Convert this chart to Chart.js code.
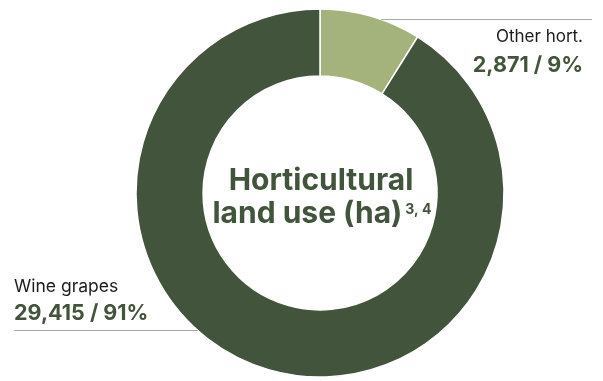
<!DOCTYPE html>
<html>
<head>
<meta charset="utf-8">
<script src="https://cdn.jsdelivr.net/npm/chart.js@4.4.1/dist/chart.umd.min.js"></script>
<style>
html,body{margin:0;padding:0;background:#fff;}
#wrap{position:relative;width:603px;height:381px;}
</style>
</head>
<body>
<div id="wrap"><canvas id="c" width="603" height="381"></canvas></div>
<script>
const categories = ["Other hort.", "Wine grapes"];
const values = [2871, 29415];
const colors = ["#a3b37b", "#43543c"];
const titleLines = ["Horticultural", "land use (ha)"];
const titleNote = "3, 4";

const FONT = "Inter, 'Noto Sans', sans-serif";
const DARK = "#43543c";

const total = values.reduce((a, b) => a + b, 0);
const pct = values.map(v => Math.round(v / total * 100));

const labelPlugin = {
  id: 'labels',
  afterDatasetsDraw(chart) {
    const ctx = chart.ctx;
    const meta = chart.getDatasetMeta(0);
    const arc = meta.data[0];
    const cx = arc.x, cy = arc.y, R = arc.outerRadius;
    ctx.save();
    // leader lines
    ctx.strokeStyle = "#a8a8a8";
    ctx.lineWidth = 1;
    const yTop = 19.5;
    const xTop = cx + Math.sqrt(R * R - (cy - yTop) * (cy - yTop));
    ctx.beginPath(); ctx.moveTo(xTop, yTop); ctx.lineTo(592, yTop); ctx.stroke();
    const yBot = 330.5;
    const xBot = cx - Math.sqrt(R * R - (yBot - cy) * (yBot - cy));
    ctx.beginPath(); ctx.moveTo(14, yBot); ctx.lineTo(xBot, yBot); ctx.stroke();

    // outer labels
    ctx.textBaseline = 'alphabetic';
    ctx.textAlign = 'right';
    ctx.fillStyle = "#1c1c1c";
    ctx.font = "400 17px " + FONT;
    ctx.fillText(categories[0], 583, 42);
    ctx.fillStyle = DARK;
    ctx.font = "700 21.5px " + FONT;
    ctx.fillText(values[0].toLocaleString('en-US') + " / " + pct[0] + "%", 583, 72);

    ctx.textAlign = 'left';
    ctx.fillStyle = "#1c1c1c";
    ctx.font = "400 17.5px " + FONT;
    ctx.fillText(categories[1], 14, 292);
    ctx.fillStyle = DARK;
    ctx.font = "700 21.5px " + FONT;
    ctx.fillText(values[1].toLocaleString('en-US') + " / " + pct[1] + "%", 14, 320);

    // centre title
    ctx.fillStyle = DARK;
    ctx.textAlign = 'center';
    ctx.font = "700 30px " + FONT;
    ctx.fillText(titleLines[0], cx + 1, cy - 3);
    ctx.textAlign = 'left';
    const w2 = ctx.measureText(titleLines[1]).width;
    ctx.font = "700 14px " + FONT;
    const wn = ctx.measureText(titleNote).width;
    const startX = cx - (w2 + 3 + wn) / 2 + 2;
    ctx.font = "700 30px " + FONT;
    ctx.fillText(titleLines[1], startX, cy + 30);
    ctx.font = "700 14px " + FONT;
    ctx.fillText(titleNote, startX + w2 + 3, cy + 21);
    ctx.restore();
  }
};

new Chart(document.getElementById('c'), {
  type: 'doughnut',
  data: {
    labels: categories,
    datasets: [{
      data: values,
      backgroundColor: colors,
      borderColor: "#ffffff",
      borderWidth: 1.5,
      hoverOffset: 0
    }]
  },
  options: {
    responsive: false,
    animation: false,
    radius: 184,
    cutout: 119,
    layout: { padding: { top: 5, bottom: 0, left: 37, right: 0 } },
    plugins: { legend: { display: false }, tooltip: { enabled: false } },
    events: []
  },
  plugins: [labelPlugin]
});
</script>
</body>
</html>
